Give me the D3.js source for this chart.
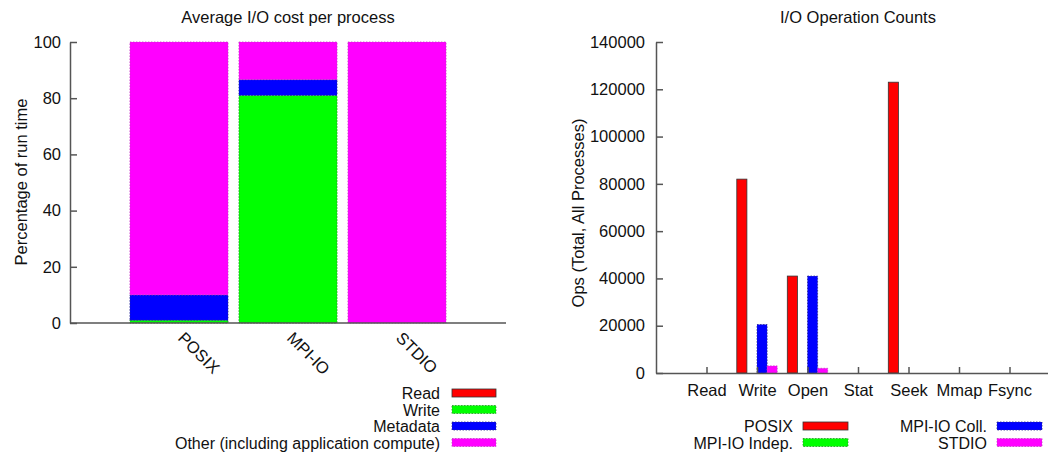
<!DOCTYPE html>
<html>
<head>
<meta charset="utf-8">
<script src="https://cdn.jsdelivr.net/npm/d3@7"></script>
<style>
    body { margin: 0; background: #fff; }
    text { font-family: "Liberation Sans", Arial, Helvetica, sans-serif; font-size: 16.5px; fill: #111; }
    .axis path, .axis line { stroke: #555; stroke-width: 1.5; }
    .axis text { font-family: "Liberation Sans", Arial, Helvetica, sans-serif; font-size: 16.5px; fill: #111; }
    .leg { font-size: 16px; }
</style>
</head>
<body>
<svg id="chart" width="1048" height="454"></svg>
<script>
// left chart: average I/O cost per process (percent of run time)
const costCats = ["POSIX", "MPI-IO", "STDIO"];
const costKeys = ["Read", "Write", "Metadata", "Other (including application compute)"];
const costRead = [0, 0, 0];
const costWrite = [1, 81, 0];
const costMeta = [9, 5.6, 0];
const costOther = [90, 13.4, 100];
const costTicks = [0, 20, 40, 60, 80, 100];

// right chart: I/O operation counts
const opCats = ["Read", "Write", "Open", "Stat", "Seek", "Mmap", "Fsync"];
const opKeys = ["POSIX", "MPI-IO Indep.", "MPI-IO Coll.", "STDIO"];
const opPosix = [0, 82000, 41000, 0, 123000, 0, 0];
const opIndep = [0, 0, 0, 0, 0, 0, 0];
const opColl = [0, 20500, 41000, 0, 0, 0, 0];
const opStdio = [0, 3000, 2000, 0, 0, 0, 0];
const opTicks = [0, 20000, 40000, 60000, 80000, 100000, 120000, 140000];

const colors = ["#ff0000", "#00ff00", "#0000ff", "#ff00ff"];
const borders = ["#333", "#2a8a2a", "#2a2a8a", "#c040c0"];

const svg = d3.select("#chart");

// ---------- left chart ----------
const xL = d3.scaleLinear().domain([-1, 3]).range([70, 506]);
const yL = d3.scaleLinear().domain([0, 100]).range([323, 42]);

const costRows = costCats.map((c, i) => ({
    cat: i,
    [costKeys[0]]: costRead[i],
    [costKeys[1]]: costWrite[i],
    [costKeys[2]]: costMeta[i],
    [costKeys[3]]: costOther[i]
}));
const stacked = d3.stack().keys(costKeys)(costRows);
const bwL = (xL(1) - xL(0)) * 0.9;

const left = svg.append("g");

stacked.forEach((layer, k) => {
    left.append("g").selectAll("rect")
        .data(layer.filter(d => d[1] - d[0] > 0))
        .enter().append("rect")
        .attr("x", d => xL(d.data.cat) - bwL / 2)
        .attr("width", bwL)
        .attr("y", d => yL(d[1]))
        .attr("height", d => yL(d[0]) - yL(d[1]))
        .attr("fill", colors[k])
        .attr("stroke", borders[k])
        .attr("stroke-width", 0.8)
        .attr("stroke-dasharray", k === 0 ? null : "1.5,1.5");
});

left.append("g")
    .attr("class", "axis")
    .attr("transform", "translate(" + xL(-1) + ",0)")
    .call(d3.axisLeft(yL).tickValues(costTicks).tickSizeInner(-7).tickSizeOuter(0).tickPadding(9));

left.append("line")
    .attr("x1", xL(-1)).attr("x2", xL(3))
    .attr("y1", yL(0)).attr("y2", yL(0))
    .attr("stroke", "#555").attr("stroke-width", 1.5);

left.selectAll(".xlab")
    .data(costCats)
    .enter().append("text")
    .attr("transform", (d, i) => "translate(" + (xL(i) - 2) + "," + 339 + ") rotate(45)")
    .attr("text-anchor", "start")
    .text(d => d);

left.append("text")
    .attr("x", 288).attr("y", 23)
    .attr("text-anchor", "middle")
    .text("Average I/O cost per process");

left.append("text")
    .attr("transform", "translate(27," + 182 + ") rotate(-90)")
    .attr("text-anchor", "middle")
    .text("Percentage of run time");

// legend
costKeys.forEach((k, i) => {
    const yy = 393 + i * 16.5;
    left.append("text")
        .attr("class", "leg")
        .attr("x", 440).attr("y", yy + 6)
        .attr("text-anchor", "end")
        .text(k);
    left.append("rect")
        .attr("x", 452).attr("y", yy - 4)
        .attr("width", 44).attr("height", 8)
        .attr("fill", colors[i])
        .attr("stroke", borders[i])
        .attr("stroke-width", 0.8)
        .attr("stroke-dasharray", i === 0 ? null : "1.5,1.5");
});

// ---------- right chart ----------
const xR = d3.scaleLinear().domain([-1, 7]).range([656, 1060]);
const yR = d3.scaleLinear().domain([0, 140000]).range([373, 42]);
const opSeries = [opPosix, opIndep, opColl, opStdio];
const slot = (xR(1) - xR(0)) / 5;

const right = svg.append("g");

opSeries.forEach((vals, j) => {
    right.append("g").selectAll("rect")
        .data(vals.map((v, i) => ({ i: i, v: v })).filter(d => d.v > 0))
        .enter().append("rect")
        .attr("x", d => xR(d.i) - 2 * slot + j * slot)
        .attr("width", slot)
        .attr("y", d => yR(d.v))
        .attr("height", d => yR(0) - yR(d.v))
        .attr("fill", colors[j])
        .attr("stroke", borders[j])
        .attr("stroke-width", 0.8)
        .attr("stroke-dasharray", j === 0 ? null : "1.5,1.5");
});

right.append("g")
    .attr("class", "axis")
    .attr("transform", "translate(" + xR(-1) + ",0)")
    .call(d3.axisLeft(yR).tickValues(opTicks).tickFormat(d3.format("d"))
        .tickSizeInner(-7).tickSizeOuter(0).tickPadding(11));

right.append("g")
    .attr("class", "axis")
    .attr("transform", "translate(0," + yR(0) + ")")
    .call(d3.axisBottom(xR).tickValues(d3.range(opCats.length))
        .tickFormat(i => opCats[i]).tickSizeInner(-6).tickSizeOuter(0).tickPadding(11));

right.append("text")
    .attr("x", 858).attr("y", 23)
    .attr("text-anchor", "middle")
    .text("I/O Operation Counts");

right.append("text")
    .attr("transform", "translate(584," + 213 + ") rotate(-90)")
    .attr("text-anchor", "middle")
    .text("Ops (Total, All Processes)");

// legend, two columns
const legPos = [[793, 426], [793, 442.5], [987, 426], [987, 442.5]];
opKeys.forEach((k, j) => {
    const p = legPos[j];
    right.append("text")
        .attr("class", "leg")
        .attr("x", p[0]).attr("y", p[1] + 6)
        .attr("text-anchor", "end")
        .text(k);
    right.append("rect")
        .attr("x", p[0] + 10).attr("y", p[1] - 4)
        .attr("width", 45).attr("height", 8)
        .attr("fill", colors[j])
        .attr("stroke", borders[j])
        .attr("stroke-width", 0.8)
        .attr("stroke-dasharray", j === 0 ? null : "1.5,1.5");
});
</script>
</body>
</html>
